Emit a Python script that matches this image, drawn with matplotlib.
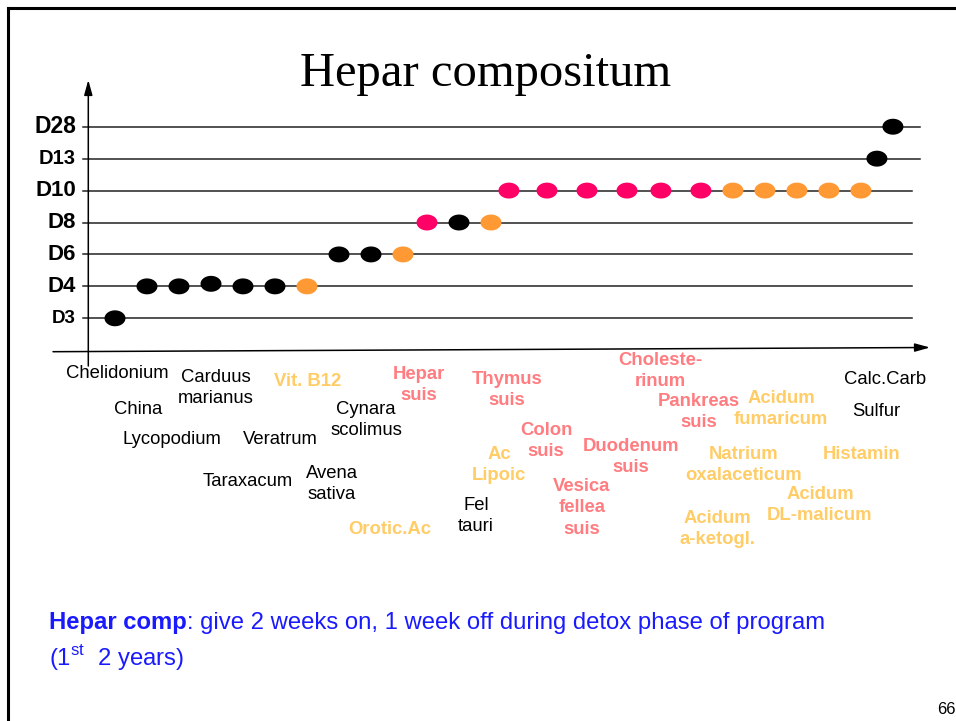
import numpy as np
import matplotlib
matplotlib.use("Agg")
import matplotlib.pyplot as plt
from matplotlib.path import Path
from matplotlib.lines import Line2D

# potency levels on the y axis
levels = ["D3", "D4", "D6", "D8", "D10", "D13", "D28"]
level_sizes = [13.5, 16, 16, 16, 16, 14.5, 16.5]

# one dot per ingredient: position along the row, potency level, group
dot_pos = [0, 1, 2, 3, 4, 5, 6, 7, 8, 9, 9.75, 10.75, 11.75,
           12.31, 13.5, 14.75, 16, 17.06, 18.31,
           19.31, 20.31, 21.31, 22.31, 23.31, 23.81, 24.31]
dot_level = [0, 1, 1, 1.08, 1, 1, 1, 2, 2, 2, 3, 3, 3,
             4, 4, 4, 4, 4, 4,
             4, 4, 4, 4, 4, 5, 6]
dot_group = ["k", "k", "k", "k", "k", "k", "o", "k", "k", "o", "p", "k", "o",
             "p", "p", "p", "p", "p", "p",
             "o", "o", "o", "o", "o", "k", "k"]

# ingredient names written under the axis
names = ["Chelidonium", "Carduus\nmarianus", "Vit. B12", "Hepar\nsuis", "China",
         "Cynara\nscolimus", "Lycopodium", "Veratrum", "Taraxacum", "Avena\nsativa",
         "Orotic.Ac", "Thymus\nsuis", "Choleste-\nrinum", "Calc.Carb", "Pankreas\nsuis",
         "Acidum\nfumaricum", "Sulfur", "Colon\nsuis", "Ac\nLipoic", "Duodenum\nsuis",
         "Natrium\noxalaceticum", "Histamin", "Vesica\nfellea\nsuis", "Fel\ntauri",
         "Acidum\nDL-malicum", "Acidum\na-ketogl."]
name_group = ["k", "k", "o", "p", "k", "k", "k", "k", "k", "k",
              "o", "p", "p", "k", "p", "o", "k", "p", "o", "p",
              "o", "o", "p", "k", "o", "o"]
# label centres in pixels (layout only)
name_xy = [(117, 374), (216, 388), (308, 382), (419, 385), (138, 409),
           (366, 420), (172, 440), (280, 440), (248, 481), (332, 484),
           (390, 529), (507, 390), (660, 371), (885, 380), (699, 412),
           (781, 409), (876, 412), (546, 441), (499, 465), (631, 457),
           (744, 465), (862, 454), (582, 508), (476, 516), (820, 505),
           (717, 529)]

dot_colors = {"k": "#000000", "p": "#FF0066", "o": "#FF9933"}
text_colors = {"k": "#000000", "p": "#FF7C80", "o": "#FFCC66"}

W, H = 956, 721
fig = plt.figure(figsize=(W / 100, H / 100), dpi=100)
ax = fig.add_axes([0, 0, 1, 1])
ax.set_axis_off()

# pixel -> data helpers (row step 32 px, level step 31.93 px)
x0, dx = 115.0, 32.0
y0, dy = 318.3, 31.93
sx = lambda px: (px - x0) / dx
ly = lambda py: (y0 - py) / dy
ax.set_xlim(sx(0), sx(W))
ax.set_ylim(ly(H), ly(0))


def fpos(px, py):
    return px / W, 1 - py / H


sans = ["Liberation Sans", "DejaVu Sans"]

# horizontal level lines
for i, lab in enumerate(levels):
    right = 920 if lab in ("D13", "D28") else 912
    ax.plot([sx(83), sx(right)], [i, i], color="#222222", lw=1.1, zorder=1)
    ax.text(sx(76), i, lab, ha="right", va="center", fontsize=level_sizes[i],
            fontweight="bold", family=sans)

# axes arrows
arrow = dict(arrowstyle="-|>,head_length=0.9,head_width=0.25", color="black",
             lw=1.1, shrinkA=0, shrinkB=0)
ax.annotate("", xy=(sx(88.3), ly(80)), xytext=(sx(88.3), ly(366)), arrowprops=arrow)
ax.annotate("", xy=(sx(930), ly(347.5)), xytext=(sx(53), ly(351.7)), arrowprops=arrow)

# elliptical dots
t = np.linspace(0, 2 * np.pi, 64)
ellipse = Path(np.column_stack([np.cos(t), 0.76 * np.sin(t)]), closed=True)
for g in ("k", "p", "o"):
    xs = [p for p, gg in zip(dot_pos, dot_group) if gg == g]
    ys = [l for l, gg in zip(dot_level, dot_group) if gg == g]
    ax.scatter(xs, ys, s=228, marker=ellipse, color=dot_colors[g],
               edgecolors="none", zorder=3)

# names under the axis
for name, g, (px, py) in zip(names, name_group, name_xy):
    fx, fy = fpos(px, py)
    fig.text(fx, fy, name, ha="center", va="center", fontsize=13.3,
             color=text_colors[g], fontweight="normal" if g == "k" else "bold",
             family=sans, linespacing=1.38)

# title
fx, fy = fpos(486, 74)
fig.text(fx, fy, "Hepar compositum", ha="center", va="center", fontsize=35,
         family=["Liberation Serif", "DejaVu Serif"])

# note at the bottom
blue = "#1A1AFF"
fx, fy = fpos(49, 623)
t1 = fig.text(fx, fy, "Hepar comp", ha="left", va="center", fontsize=17.2,
              fontweight="bold", color=blue, family=sans)
fig.canvas.draw()
bb = t1.get_window_extent()
fig.text(bb.x1 / W, fy, ": give 2 weeks on, 1 week off during detox phase of program",
         ha="left", va="center", fontsize=17.2, color=blue, family=sans)
fx, fy = fpos(49, 657)
fig.text(fx, fy, r"(1$^{\mathregular{st}}$  2 years)", ha="left", va="center",
         fontsize=17.2, color=blue, family=sans)

# page number
fx, fy = fpos(956, 709)
fig.text(fx, fy, "66", ha="right", va="center", fontsize=12, family=sans)

# slide frame (top and left edges)
fig.add_artist(Line2D([8 / W, 8 / W], [0, 1 - 8 / H], color="black", lw=2.2))
fig.add_artist(Line2D([8 / W, 1], [1 - 8 / H, 1 - 8 / H], color="black", lw=2.2))

fig.savefig("out.png", dpi=100)
